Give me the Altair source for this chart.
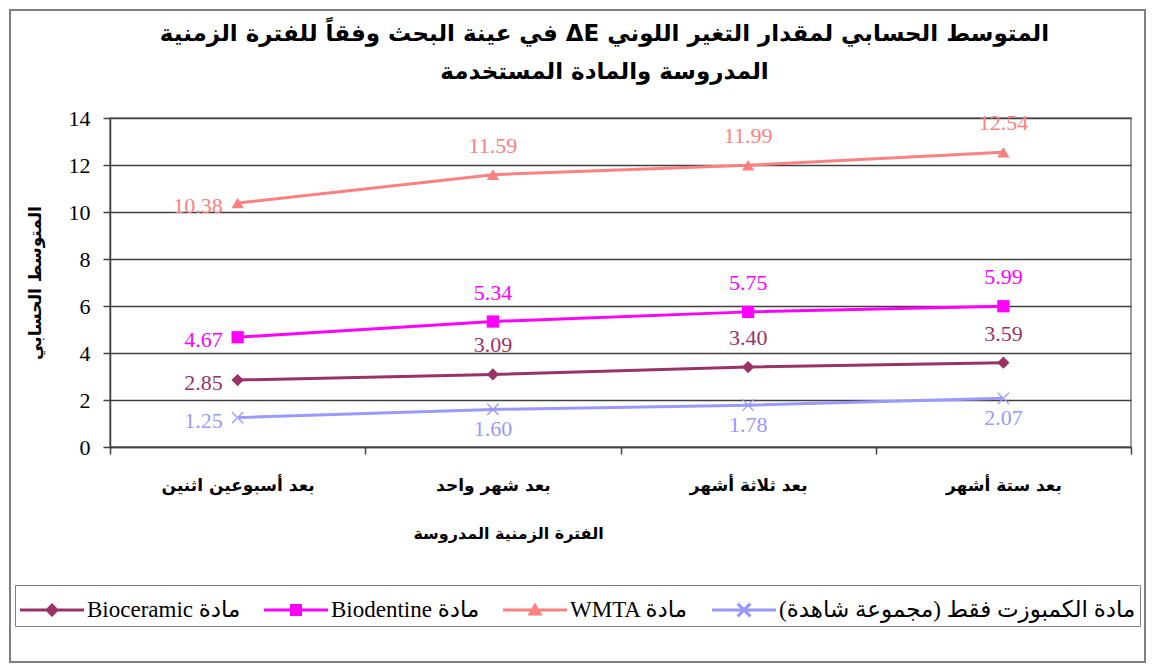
import altair as alt
import pandas as pd

# ---------------- data ----------------
periods = ["بعد أسبوعين اثنين", "بعد شهر واحد", "بعد ثلاثة أشهر", "بعد ستة أشهر"]
series_names = [
    "Bioceramic مادة",
    "Biodentine مادة",
    "WMTA مادة",
    "\u200fمادة الكمبوزت فقط (مجموعة شاهدة)\u200f",
]
bioceramic = [2.85, 3.09, 3.40, 3.59]
biodentine = [4.67, 5.34, 5.75, 5.99]
wmta = [10.38, 11.59, 11.99, 12.54]
control = [1.25, 1.60, 1.78, 2.07]
series_colors = ["#993366", "#FF00FF", "#FF8080", "#9999FF"]
y_ticks = [0, 2, 4, 6, 8, 10, 12, 14]

title_lines = [
    "\u202bالمتوسط الحسابي لمقدار التغير اللوني ΔE في عينة البحث وفقاً للفترة الزمنية\u202c",
    "\u202bالمدروسة والمادة المستخدمة\u202c",
]
x_title = "الفترة الزمنية المدروسة"
y_title = "المتوسط الحسابي"

rows = []
for s_idx, (name, vals) in enumerate(zip(series_names, [bioceramic, biodentine, wmta, control])):
    for p_idx, (p, v) in enumerate(zip(periods, vals)):
        rows.append({"period": p, "series": name, "value": v, "pidx": p_idx, "sidx": s_idx})
df = pd.DataFrame(rows)

# ---------------- styles ----------------
SERIF = "Liberation Serif, DejaVu Sans"
ARABIC = "DejaVu Sans"

# custom X marker for the plot (filled polygon, -1..1 box)
x_marker = "M-0.85,-1L1,0.85L0.85,1L-1,-0.85Z M-1,0.85L-0.85,1L1,-0.85L0.85,-1Z"
shape_range = ["diamond", "square", "triangle-up", x_marker]

# legend symbols: a line with the marker on top; symbol box side = 40px,
# the line runs past the box (to +-1.6) and is shifted with symbolOffset
L = 1.6
line_part = f"M{-L},-0.07H{L}V0.07H{-L}Z"
leg_diamond = line_part + " M0,-0.35L0.35,0L0,0.35L-0.35,0Z"
leg_square = line_part + " M-0.3,-0.3H0.3V0.3H-0.3Z"
leg_triangle = line_part + " M0,-0.38L0.38,0.28H-0.38Z"
a, d = 0.32, 0.055
leg_x = line_part + (
    f" M{-a+d:.3f},{-a-d:.3f}L{a+d:.3f},{a-d:.3f}L{a-d:.3f},{a+d:.3f}L{-a-d:.3f},{-a+d:.3f}Z"
    f" M{-a+d:.3f},{a+d:.3f}L{-a-d:.3f},{a-d:.3f}L{a-d:.3f},{-a-d:.3f}L{a+d:.3f},{-a+d:.3f}Z"
)
leg_paths = [leg_diamond, leg_square, leg_triangle, leg_x]

color_scale = alt.Scale(domain=series_names, range=series_colors)
shape_scale = alt.Scale(domain=series_names, range=shape_range)
leg_shape_scale = alt.Scale(domain=series_names, range=leg_paths)

legend = alt.Legend(
    title=None,
    orient="none",
    legendX=-95,
    legendY=467,
    direction="horizontal",
    columns=4,
    strokeColor="#808080",
    fillColor="white",
    padding=4,
    labelFont=SERIF,
    labelFontSize=23,
    labelColor="black",
    labelLimit=700,
    symbolSize=1600,
    symbolOffset=12,
    labelOffset=14,
    columnPadding=22,
)

x_enc = alt.X(
    "period:N",
    sort=periods,
    scale=alt.Scale(type="band", paddingInner=0, paddingOuter=0),
    axis=alt.Axis(
        title=x_title,
        titleFont=ARABIC,
        titleFontSize=16,
        titleFontWeight="bold",
        titleColor="black",
        titlePadding=32,
        titleX=398,
        labelFont=ARABIC,
        labelFontSize=17,
        labelFontWeight="bold",
        labelColor="black",
        labelAngle=0,
        labelPadding=23,
        tickBand="extent",
        tickSize=7,
        tickColor="#404040",
        tickWidth=1.5,
        domainColor="#404040",
        domainWidth=1.5,
        grid=False,
    ),
)
y_enc = alt.Y(
    "value:Q",
    scale=alt.Scale(domain=[0, 14], nice=False),
    axis=alt.Axis(
        values=y_ticks,
        title=y_title,
        titleFont=ARABIC,
        titleFontSize=17,
        titleFontWeight="bold",
        titleColor="black",
        titlePadding=24,
        labelFont="Liberation Serif",
        labelFontSize=22,
        labelColor="black",
        labelPadding=13,
        tickSize=7,
        tickColor="#404040",
        tickWidth=1.5,
        domainColor="#404040",
        domainWidth=1.5,
        grid=True,
        gridColor="#404040",
        gridWidth=1.5,
    ),
)

base = alt.Chart(df)

lines = base.mark_line(strokeWidth=3).encode(
    x=x_enc,
    y=y_enc,
    color=alt.Color("series:N", scale=color_scale, legend=None),
    detail="series:N",
)

points = base.mark_point(filled=True, size=150, opacity=1).encode(
    x=x_enc,
    y=y_enc,
    color=alt.Color("series:N", scale=color_scale, legend=None),
    shape=alt.Shape("series:N", scale=shape_scale, legend=None),
)

# legend-only layer (no rows drawn): line + marker symbols
legend_layer = base.transform_filter("false").mark_point(filled=True, opacity=1).encode(
    color=alt.Color("series:N", scale=color_scale, legend=legend),
    shape=alt.Shape("series:N", scale=leg_shape_scale, legend=legend),
)

text_common = dict(font="Liberation Serif", fontSize=22)
label_enc = dict(
    x=x_enc,
    y=y_enc,
    text=alt.Text("value:Q", format=".2f"),
    color=alt.Color("series:N", scale=color_scale, legend=None),
)

labels_first = base.transform_filter("datum.pidx == 0").mark_text(
    align="right", baseline="middle", dx=-15, dy=3, **text_common
).encode(**label_enc)

labels_above = base.transform_filter("datum.pidx > 0 && datum.sidx < 3").mark_text(
    align="center", baseline="middle", dx=0, dy=-29, **text_common
).encode(**label_enc)

labels_below = base.transform_filter("datum.pidx > 0 && datum.sidx == 3").mark_text(
    align="center", baseline="middle", dx=0, dy=20, **text_common
).encode(**label_enc)

frame = alt.Chart(pd.DataFrame({"k": [0]})).mark_rect(
    fill=None, stroke="#808080", strokeWidth=2
).encode(
    x=alt.value(-100), x2=alt.value(1035), y=alt.value(-108), y2=alt.value(544)
)

chart = (
    alt.layer(frame, lines, points, labels_first, labels_above, labels_below, legend_layer)
    .resolve_scale(shape="independent", color="independent")
    .properties(
        width=1021,
        height=329,
        padding={"left": 102, "top": 110, "right": 16, "bottom": 217},
        autosize=alt.AutoSizeParams(type="none"),
        title=alt.TitleParams(
            text=title_lines,
            font=ARABIC,
            fontSize=23,
            fontWeight="bold",
            color="black",
            anchor="middle",
            offset=-75,
            lineHeight=38,
            dx=-16,
        ),
        background="white",
    )
    .configure_view(stroke="#808080", strokeWidth=1.5)
)

chart.save("out.html", embed_options={"renderer": "svg", "actions": False})
